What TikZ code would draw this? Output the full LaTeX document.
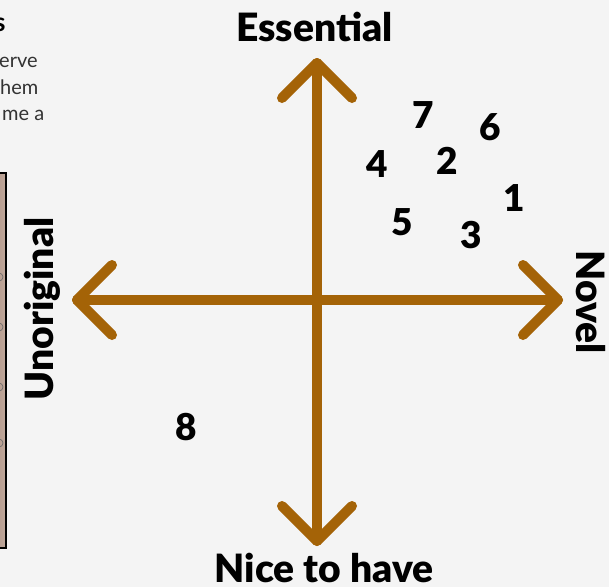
\documentclass[tikz,border=0pt]{standalone}
\usepackage{fontspec}
\setmainfont{Lato}
\newfontfamily\heavyfont{Lato Black}
\definecolor{bg}{HTML}{F4F4F4}
\definecolor{axis}{HTML}{A46307}
\definecolor{panel}{HTML}{B09282}
\definecolor{txt}{HTML}{333333}
\begin{document}
\begin{tikzpicture}[x=1pt,y=-1pt,
  axisline/.style={draw=axis,line width=10pt,line cap=round,line join=round},
  label/.style={font=\heavyfont\fontsize{39}{39}\selectfont,text=black,inner sep=0pt,anchor=base},
  num/.style={font=\heavyfont\fontsize{37}{37}\selectfont,text=black,inner sep=0pt},
  frag/.style={font=\fontsize{20}{20}\selectfont,text=txt,inner sep=0pt,anchor=base west}]
\useasboundingbox (0,0) rectangle (609,587);
\fill[bg] (0,0) rectangle (609,587);
\begin{scope}
\clip (0,0) rectangle (609,587);
% side panel
\fill[left color=panel!90!black,right color=panel!80!white] (-20,173) rectangle (6,548);
\draw[black,line width=2pt] (-20,173) -- (6,173) -- (6,548) -- (-20,548);
\foreach \yy in {277,327,387,443} \draw[black!60,line width=0.6pt] (-1,\yy) circle (4);
% text fragments
\node[frag,font=\bfseries\fontsize{26}{26}\selectfont,text=black] (h) at (-6,31) {s};
\node[frag] (f1) at (-1,67) {erve};
\node[frag] (f2) at (0,94) {hem};
\node[frag] (f3) at (2,120) {me a};
\end{scope}
% axes
\coordinate (C) at (317,300);
\coordinate (L) at (77,300);
\coordinate (R) at (558,300);
\coordinate (T) at (317,63);
\coordinate (B) at (317,541);
\path[axisline] (L) -- (R);
\path[axisline] (T) -- (B);
\path[axisline] ([shift={(35,-35)}]L) -- (L) -- ([shift={(35,35)}]L);
\path[axisline] ([shift={(-35,-35)}]R) -- (R) -- ([shift={(-35,35)}]R);
\path[axisline] ([shift={(-35,35)}]T) -- (T) -- ([shift={(35,35)}]T);
\path[axisline] ([shift={(-35,-35)}]B) -- (B) -- ([shift={(35,-35)}]B);
% labels
\node[label] (ess) at (314.5,41) {Essential};
\node[label] (nice) at (324,582) {Nice to have};
\node[label,rotate=90] (unor) at (53,309) {Unoriginal};
\node[label,rotate=-90] (nov) at (576,302) {Novel};
% numbers
\node[num] (n7) at (423,115) {7};
\node[num] (n6) at (490,127) {6};
\node[num] (n4) at (377,164) {4};
\node[num] (n2) at (447,161) {2};
\node[num] (n1) at (514,198) {1};
\node[num] (n5) at (402,222) {5};
\node[num] (n3) at (471,235) {3};
\node[num] (n8) at (186,427) {8};
\end{tikzpicture}
\end{document}
